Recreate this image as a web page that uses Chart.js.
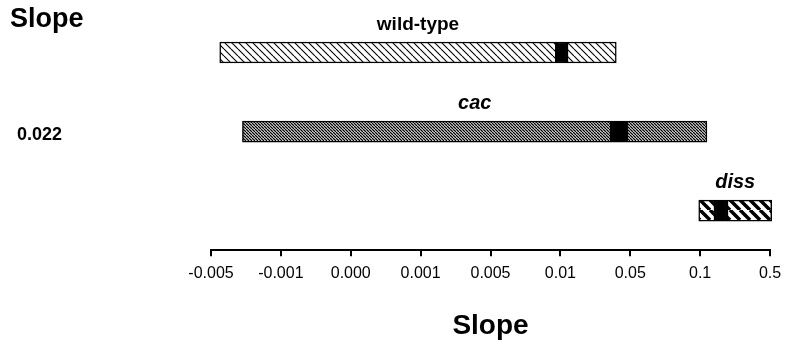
<!DOCTYPE html>
<html>
<head>
<meta charset="utf-8">
<script src="https://cdn.jsdelivr.net/npm/chart.js@4/dist/chart.umd.min.js"></script>
<style>
  body { margin: 0; background: #fff; }
  #wrap { width: 790px; height: 344px; }
</style>
</head>
<body>
<div id="wrap"><canvas id="slopeChart"></canvas></div>
<script>
// Rows (genotypes), top to bottom
const rows = ['wild-type', 'cac', 'diss'];
// Range of slopes for each row
const rangeLow = [-0.0045, -0.0032, 0.099];
const rangeHigh = [0.042, 0.139, 0.51];
// Black marker inside each bar
const markLow = [0.0097, 0.039, 0.185];
const markHigh = [0.0138, 0.048, 0.254];
// Notes printed at the left of a row
const rowNotes = ['', '0.022', ''];
// X axis tick labels (evenly spaced on the axis)
const tickLabels = ['-0.005', '-0.001', '0.000', '0.001', '0.005', '0.01', '0.05', '0.1', '0.5'];
const tickValues = tickLabels.map(Number);

const FONT = '"Liberation Sans", Arial, Helvetica, sans-serif';

// slope value -> position on the evenly spaced axis (piecewise linear between ticks)
function toPos(v) {
  let i = 0;
  while (i < tickValues.length - 2 && v > tickValues[i + 1]) i++;
  return i + (v - tickValues[i]) / (tickValues[i + 1] - tickValues[i]);
}

// Hatch pattern "\\\" on white
function makeHatch(spacing, lineWidth) {
  const c = document.createElement('canvas');
  c.width = c.height = spacing;
  const g = c.getContext('2d');
  g.fillStyle = '#fff';
  g.fillRect(0, 0, spacing, spacing);
  g.strokeStyle = '#000';
  g.lineWidth = lineWidth;
  g.beginPath();
  [-spacing, 0, spacing].forEach(o => {
    g.moveTo(o, 0);
    g.lineTo(o + spacing, spacing);
  });
  g.stroke();
  return g.createPattern(c, 'repeat');
}

const hatches = [makeHatch(7, 1.1), makeHatch(3, 1.3), makeHatch(10, 3.5)];
const labelFonts = ['bold 19px ' + FONT, 'italic bold 20px ' + FONT, 'italic bold 20px ' + FONT];

const segment = (lo, hi, color) => ({
  data: rows.map((_, i) => [toPos(lo[i]), toPos(hi[i])]),
  backgroundColor: color,
  borderColor: '#000',
  borderWidth: 1.5,
  borderSkipped: false,
  barThickness: 21,
  grouped: false,
  clip: false
});

// Texts that are not part of the axes
const annotations = {
  id: 'annotations',
  afterDraw(chart) {
    const { ctx, scales: { x, y } } = chart;
    ctx.save();
    ctx.fillStyle = '#000';
    ctx.textAlign = 'center';
    ctx.textBaseline = 'alphabetic';
    rows.forEach((name, i) => {
      const cx = x.getPixelForValue((toPos(rangeLow[i]) + toPos(rangeHigh[i])) / 2);
      const top = y.getPixelForValue(i) - 10.5;
      ctx.font = labelFonts[i];
      ctx.fillText(name, cx, top - 12);
    });
    ctx.textAlign = 'left';
    ctx.textBaseline = 'middle';
    ctx.font = 'bold 18px ' + FONT;
    rowNotes.forEach((note, i) => {
      if (note) ctx.fillText(note, 17, y.getPixelForValue(i) + 3);
    });
    ctx.textBaseline = 'top';
    ctx.font = 'bold 27px ' + FONT;
    ctx.fillText('Slope', 10, 6);
    ctx.restore();
  }
};

new Chart(document.getElementById('slopeChart'), {
  type: 'bar',
  data: {
    labels: rows,
    datasets: [
      segment(rangeLow, markLow, hatches),
      segment(markLow, markHigh, '#000'),
      segment(markHigh, rangeHigh, hatches)
    ]
  },
  options: {
    responsive: true,
    maintainAspectRatio: false,
    animation: false,
    indexAxis: 'y',
    layout: { padding: { left: 211, right: 20, top: 13, bottom: 0 } },
    scales: {
      x: {
        type: 'linear',
        min: 0,
        max: tickLabels.length - 1,
        grid: {
          drawOnChartArea: false,
          drawTicks: true,
          tickLength: 6,
          lineWidth: 2,
          color: '#000'
        },
        border: { display: true, color: '#000', width: 2 },
        ticks: {
          stepSize: 1,
          padding: 8,
          color: '#000',
          font: { family: FONT, size: 16 },
          maxRotation: 0,
          autoSkip: false,
          callback: value => tickLabels[value]
        },
        title: {
          display: true,
          text: 'Slope',
          color: '#000',
          font: { family: FONT, size: 28, weight: 'bold' },
          padding: { top: 18, bottom: 1 }
        }
      },
      y: {
        display: false
      }
    },
    plugins: {
      legend: { display: false },
      tooltip: { enabled: false }
    }
  },
  plugins: [annotations]
});
</script>
</body>
</html>
